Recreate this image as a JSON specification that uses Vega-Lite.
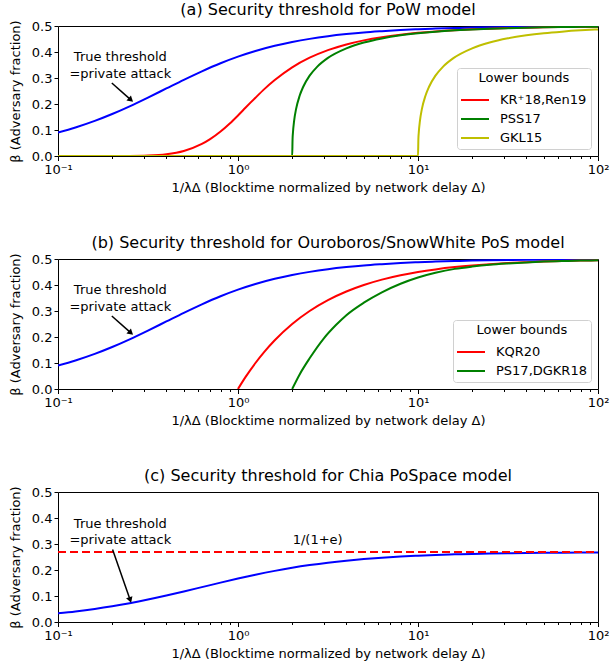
{
  "$schema": "https://vega.github.io/schema/vega-lite/v6.json",
  "padding": {"left": 8, "right": 0, "top": 1, "bottom": 2},
  "spacing": 39,
  "config": {
    "font": "DejaVu Sans",
    "view": {"stroke": "black", "strokeWidth": 1},
    "axis": {"grid": false, "domain": false, "labelFontSize": 13, "titleFontSize": 13, "titleFontWeight": "normal", "labelColor": "black", "titleColor": "black", "tickColor": "black", "tickSize": 4, "labelPadding": 3, "titlePadding": 5},
    "axisY": {"labelPadding": 2, "titlePadding": 9},
    "title": {"fontSize": 16, "fontWeight": "normal", "color": "black", "offset": 2},
    "legend": {"orient": "bottom-right", "offset": 7, "strokeColor": "#d0d0d0", "fillColor": "white", "padding": 4, "cornerRadius": 3, "titleFontSize": 13, "titleFontWeight": "normal", "labelFontSize": 13, "titleColor": "black", "labelColor": "black", "symbolStrokeWidth": 2, "symbolSize": 400, "titleAlign": "center", "titleAnchor": "middle", "rowPadding": 1, "labelOffset": 17, "titlePadding": 4}
  },
  "resolve": {"scale": {"color": "independent"}, "legend": {"color": "independent"}},
  "datasets": {
    "pow": [
      {"s":"true","x":0.1,"beta":0.0901},{"s":"true","x":0.125,"beta":0.1096},{"s":"true","x":0.16,"beta":0.135},{"s":"true","x":0.2,"beta":0.1615},{"s":"true","x":0.25,"beta":0.191},{"s":"true","x":0.316,"beta":0.2246},{"s":"true","x":0.4,"beta":0.2597},{"s":"true","x":0.5,"beta":0.2929},{"s":"true","x":0.63,"beta":0.3256},{"s":"true","x":0.8,"beta":0.3566},{"s":"true","x":1,"beta":0.382},{"s":"true","x":1.25,"beta":0.4037},{"s":"true","x":1.6,"beta":0.4237},{"s":"true","x":2,"beta":0.4384},{"s":"true","x":2.5,"beta":0.4505},{"s":"true","x":3.16,"beta":0.4607},{"s":"true","x":4,"beta":0.4688},{"s":"true","x":5,"beta":0.4751},{"s":"true","x":6.3,"beta":0.48},{"s":"true","x":8,"beta":0.4844},{"s":"true","x":10,"beta":0.4875},{"s":"true","x":12.5,"beta":0.49},{"s":"true","x":16,"beta":0.4922},{"s":"true","x":20,"beta":0.4938},{"s":"true","x":25,"beta":0.495},{"s":"true","x":31.6,"beta":0.4961},{"s":"true","x":40,"beta":0.4969},{"s":"true","x":50,"beta":0.4975},{"s":"true","x":63,"beta":0.498},{"s":"true","x":80,"beta":0.4984},{"s":"true","x":100,"beta":0.4988},
      {"s":"KR⁺18,Ren19","x":0.1,"beta":0},{"s":"KR⁺18,Ren19","x":0.125,"beta":0},{"s":"KR⁺18,Ren19","x":0.16,"beta":0},{"s":"KR⁺18,Ren19","x":0.2,"beta":0.00005},{"s":"KR⁺18,Ren19","x":0.25,"beta":0.0003},{"s":"KR⁺18,Ren19","x":0.316,"beta":0.0018},{"s":"KR⁺18,Ren19","x":0.4,"beta":0.0069},{"s":"KR⁺18,Ren19","x":0.5,"beta":0.0194},{"s":"KR⁺18,Ren19","x":0.63,"beta":0.0462},{"s":"KR⁺18,Ren19","x":0.7,"beta":0.0647},{"s":"KR⁺18,Ren19","x":0.8,"beta":0.094},{"s":"KR⁺18,Ren19","x":0.9,"beta":0.125},{"s":"KR⁺18,Ren19","x":1,"beta":0.156},{"s":"KR⁺18,Ren19","x":1.1,"beta":0.1853},{"s":"KR⁺18,Ren19","x":1.25,"beta":0.224},{"s":"KR⁺18,Ren19","x":1.4,"beta":0.2572},{"s":"KR⁺18,Ren19","x":1.6,"beta":0.292},{"s":"KR⁺18,Ren19","x":2,"beta":0.341},{"s":"KR⁺18,Ren19","x":2.5,"beta":0.378},{"s":"KR⁺18,Ren19","x":3.16,"beta":0.4073},{"s":"KR⁺18,Ren19","x":4,"beta":0.429},{"s":"KR⁺18,Ren19","x":5,"beta":0.4447},{"s":"KR⁺18,Ren19","x":6.3,"beta":0.457},{"s":"KR⁺18,Ren19","x":8,"beta":0.4666},{"s":"KR⁺18,Ren19","x":10,"beta":0.4736},{"s":"KR⁺18,Ren19","x":12.5,"beta":0.4792},{"s":"KR⁺18,Ren19","x":16,"beta":0.4839},{"s":"KR⁺18,Ren19","x":20,"beta":0.4872},{"s":"KR⁺18,Ren19","x":25,"beta":0.4898},{"s":"KR⁺18,Ren19","x":31.6,"beta":0.492},{"s":"KR⁺18,Ren19","x":40,"beta":0.4936},{"s":"KR⁺18,Ren19","x":50,"beta":0.495},{"s":"KR⁺18,Ren19","x":63,"beta":0.496},{"s":"KR⁺18,Ren19","x":80,"beta":0.4969},{"s":"KR⁺18,Ren19","x":100,"beta":0.4975},
      {"s":"PSS17","x":0.1,"beta":0},{"s":"PSS17","x":2,"beta":0},{"s":"PSS17","x":2.01,"beta":0.066},{"s":"PSS17","x":2.02,"beta":0.0905},{"s":"PSS17","x":2.05,"beta":0.1351},{"s":"PSS17","x":2.1,"beta":0.1791},{"s":"PSS17","x":2.2,"beta":0.2317},{"s":"PSS17","x":2.3,"beta":0.2654},{"s":"PSS17","x":2.5,"beta":0.309},{"s":"PSS17","x":2.75,"beta":0.343},{"s":"PSS17","x":3.16,"beta":0.3774},{"s":"PSS17","x":4,"beta":0.4142},{"s":"PSS17","x":5,"beta":0.4365},{"s":"PSS17","x":6.3,"beta":0.4523},{"s":"PSS17","x":8,"beta":0.4641},{"s":"PSS17","x":10,"beta":0.4721},{"s":"PSS17","x":12.5,"beta":0.4782},{"s":"PSS17","x":16,"beta":0.4833},{"s":"PSS17","x":20,"beta":0.4868},{"s":"PSS17","x":25,"beta":0.4896},{"s":"PSS17","x":31.6,"beta":0.4918},{"s":"PSS17","x":40,"beta":0.4936},{"s":"PSS17","x":50,"beta":0.4949},{"s":"PSS17","x":63,"beta":0.496},{"s":"PSS17","x":80,"beta":0.4968},{"s":"PSS17","x":100,"beta":0.4975},
      {"s":"GKL15","x":0.1,"beta":0},{"s":"GKL15","x":10,"beta":0},{"s":"GKL15","x":10.05,"beta":0.066},{"s":"GKL15","x":10.1,"beta":0.0905},{"s":"GKL15","x":10.25,"beta":0.1351},{"s":"GKL15","x":10.5,"beta":0.1791},{"s":"GKL15","x":11,"beta":0.2316},{"s":"GKL15","x":11.5,"beta":0.2654},{"s":"GKL15","x":12.5,"beta":0.309},{"s":"GKL15","x":13.75,"beta":0.343},{"s":"GKL15","x":15.8,"beta":0.3773},{"s":"GKL15","x":20,"beta":0.4142},{"s":"GKL15","x":25,"beta":0.4365},{"s":"GKL15","x":31.6,"beta":0.4526},{"s":"GKL15","x":40,"beta":0.4641},{"s":"GKL15","x":50,"beta":0.4721},{"s":"GKL15","x":63,"beta":0.4783},{"s":"GKL15","x":80,"beta":0.4833},{"s":"GKL15","x":100,"beta":0.4868}
    ],
    "pos": [
      {"s":"true","x":0.1,"beta":0.0901},{"s":"true","x":0.125,"beta":0.1096},{"s":"true","x":0.16,"beta":0.135},{"s":"true","x":0.2,"beta":0.1615},{"s":"true","x":0.25,"beta":0.191},{"s":"true","x":0.316,"beta":0.2246},{"s":"true","x":0.4,"beta":0.2597},{"s":"true","x":0.5,"beta":0.2929},{"s":"true","x":0.63,"beta":0.3256},{"s":"true","x":0.8,"beta":0.3566},{"s":"true","x":1,"beta":0.382},{"s":"true","x":1.25,"beta":0.4037},{"s":"true","x":1.6,"beta":0.4237},{"s":"true","x":2,"beta":0.4384},{"s":"true","x":2.5,"beta":0.4505},{"s":"true","x":3.16,"beta":0.4607},{"s":"true","x":4,"beta":0.4688},{"s":"true","x":5,"beta":0.4751},{"s":"true","x":6.3,"beta":0.48},{"s":"true","x":8,"beta":0.4844},{"s":"true","x":10,"beta":0.4875},{"s":"true","x":12.5,"beta":0.49},{"s":"true","x":16,"beta":0.4922},{"s":"true","x":20,"beta":0.4938},{"s":"true","x":25,"beta":0.495},{"s":"true","x":31.6,"beta":0.4961},{"s":"true","x":40,"beta":0.4969},{"s":"true","x":50,"beta":0.4975},{"s":"true","x":63,"beta":0.498},{"s":"true","x":80,"beta":0.4984},{"s":"true","x":100,"beta":0.4988},
      {"s":"KQR20","x":1,"beta":0},{"s":"KQR20","x":1.1,"beta":0.0455},{"s":"KQR20","x":1.25,"beta":0.1},{"s":"KQR20","x":1.4,"beta":0.1429},{"s":"KQR20","x":1.6,"beta":0.1875},{"s":"KQR20","x":2,"beta":0.25},{"s":"KQR20","x":2.5,"beta":0.3},{"s":"KQR20","x":3.16,"beta":0.3418},{"s":"KQR20","x":4,"beta":0.375},{"s":"KQR20","x":5,"beta":0.4},{"s":"KQR20","x":6.3,"beta":0.4206},{"s":"KQR20","x":8,"beta":0.4375},{"s":"KQR20","x":10,"beta":0.45},{"s":"KQR20","x":12.5,"beta":0.46},{"s":"KQR20","x":16,"beta":0.4688},{"s":"KQR20","x":20,"beta":0.475},{"s":"KQR20","x":25,"beta":0.48},{"s":"KQR20","x":31.6,"beta":0.4842},{"s":"KQR20","x":40,"beta":0.4875},{"s":"KQR20","x":50,"beta":0.49},{"s":"KQR20","x":63,"beta":0.4921},{"s":"KQR20","x":80,"beta":0.4938},{"s":"KQR20","x":100,"beta":0.495},
      {"s":"PS17,DGKR18","x":2,"beta":0},{"s":"PS17,DGKR18","x":2.2,"beta":0.056},{"s":"PS17,DGKR18","x":2.5,"beta":0.118},{"s":"PS17,DGKR18","x":3,"beta":0.195},{"s":"PS17,DGKR18","x":3.5,"beta":0.246},{"s":"PS17,DGKR18","x":4,"beta":0.284},{"s":"PS17,DGKR18","x":5,"beta":0.332},{"s":"PS17,DGKR18","x":6.3,"beta":0.372},{"s":"PS17,DGKR18","x":8,"beta":0.405},{"s":"PS17,DGKR18","x":10,"beta":0.429},{"s":"PS17,DGKR18","x":12.5,"beta":0.447},{"s":"PS17,DGKR18","x":16,"beta":0.462},{"s":"PS17,DGKR18","x":20,"beta":0.471},{"s":"PS17,DGKR18","x":25,"beta":0.478},{"s":"PS17,DGKR18","x":31.6,"beta":0.483},{"s":"PS17,DGKR18","x":40,"beta":0.487},{"s":"PS17,DGKR18","x":50,"beta":0.49},{"s":"PS17,DGKR18","x":63,"beta":0.492},{"s":"PS17,DGKR18","x":80,"beta":0.494},{"s":"PS17,DGKR18","x":100,"beta":0.495}
    ],
    "chia": [
      {"s":"true","x":0.1,"beta":0.0333},{"s":"true","x":0.125,"beta":0.0407},{"s":"true","x":0.16,"beta":0.0504},{"s":"true","x":0.2,"beta":0.0607},{"s":"true","x":0.25,"beta":0.0725},{"s":"true","x":0.316,"beta":0.0864},{"s":"true","x":0.4,"beta":0.1018},{"s":"true","x":0.5,"beta":0.1174},{"s":"true","x":0.63,"beta":0.1341},{"s":"true","x":0.8,"beta":0.1515},{"s":"true","x":1,"beta":0.1672},{"s":"true","x":1.25,"beta":0.1819},{"s":"true","x":1.6,"beta":0.1967},{"s":"true","x":2,"beta":0.2086},{"s":"true","x":2.5,"beta":0.2189},{"s":"true","x":3.16,"beta":0.2282},{"s":"true","x":4,"beta":0.236},{"s":"true","x":5,"beta":0.2421},{"s":"true","x":6.3,"beta":0.2473},{"s":"true","x":8,"beta":0.2517},{"s":"true","x":10,"beta":0.255},{"s":"true","x":12.5,"beta":0.2578},{"s":"true","x":16,"beta":0.2601},{"s":"true","x":20,"beta":0.2619},{"s":"true","x":25,"beta":0.2633},{"s":"true","x":31.6,"beta":0.2645},{"s":"true","x":40,"beta":0.2654},{"s":"true","x":50,"beta":0.2661},{"s":"true","x":63,"beta":0.2667},{"s":"true","x":80,"beta":0.2672},{"s":"true","x":100,"beta":0.2675},
      {"s":"1/(1+e)","x":0.1,"beta":0.2689},{"s":"1/(1+e)","x":100,"beta":0.2689}
    ],
    "notes": [
      {"p":"a","x":0.222,"beta":0.379,"t":"True threshold"},{"p":"a","x":0.222,"beta":0.317,"t":"=private attack"},
      {"p":"b","x":0.222,"beta":0.379,"t":"True threshold"},{"p":"b","x":0.222,"beta":0.317,"t":"=private attack"},
      {"p":"c","x":0.222,"beta":0.377,"t":"True threshold"},{"p":"c","x":0.222,"beta":0.315,"t":"=private attack"},
      {"p":"c","x":2.77,"beta":0.314,"t":"1/(1+e)"}
    ],
    "arrows": [
      {"p":"a","x":0.199,"beta":0.281,"x2":0.254,"beta2":0.216},
      {"p":"b","x":0.199,"beta":0.281,"x2":0.254,"beta2":0.216},
      {"p":"c","x":0.201,"beta":0.279,"x2":0.2518,"beta2":0.0846}
    ],
    "heads": [
      {"p":"a","x":0.254,"beta":0.216},
      {"p":"b","x":0.254,"beta":0.216},
      {"p":"c","x":0.2518,"beta":0.0846}
    ]
  },
  "vconcat": [
    {
      "title": "(a) Security threshold for PoW model",
      "width": 540, "height": 130,
      "encoding": {
        "x": {"field": "x", "type": "quantitative", "scale": {"type": "log", "domain": [0.1, 100], "nice": false}, "title": "1/λΔ (Blocktime normalized by network delay Δ)",
          "axis": {"values": [0.1,0.2,0.3,0.4,0.5,0.6,0.7,0.8,0.9,1,2,3,4,5,6,7,8,9,10,20,30,40,50,60,70,80,90,100],
            "labelExpr": "datum.value == 0.1 ? '10⁻¹' : datum.value == 1 ? '10⁰' : datum.value == 10 ? '10¹' : datum.value == 100 ? '10²' : ''",
            "tickSize": {"condition": {"test": "datum.value == 0.1 || datum.value == 1 || datum.value == 10 || datum.value == 100", "value": 4.5}, "value": 2.5}, "labelFlush": false}},
        "y": {"field": "beta", "type": "quantitative", "scale": {"domain": [0, 0.5], "nice": false}, "title": "β (Adversary fraction)", "axis": {"values": [0,0.1,0.2,0.3,0.4,0.5], "format": ".1f"}}
      },
      "layer": [
        {"data": {"name": "pow"}, "transform": [{"filter": "datum.s == 'true'"}], "mark": {"type": "line", "color": "#0000ff", "strokeWidth": 2, "clip": true, "interpolate": "monotone"}},
        {"data": {"name": "pow"}, "transform": [{"filter": "datum.s != 'true'"}], "mark": {"type": "line", "strokeWidth": 2, "clip": true, "interpolate": "monotone"},
          "encoding": {"color": {"field": "s", "type": "nominal", "title": "Lower bounds", "scale": {"domain": ["KR⁺18,Ren19", "PSS17", "GKL15"], "range": ["#ff0000", "#008000", "#bfbf00"]}, "legend": {"symbolType": "M -1.1 0 L 1.7 0"}}}},
        {"data": {"name": "notes"}, "transform": [{"filter": "datum.p == 'a'"}], "mark": {"type": "text", "fontSize": 13, "align": "center", "baseline": "middle", "color": "black"}, "encoding": {"text": {"field": "t"}}},
        {"data": {"name": "arrows"}, "transform": [{"filter": "datum.p == 'a'"}], "mark": {"type": "rule", "strokeWidth": 1.5, "color": "black"}, "encoding": {"x2": {"field": "x2"}, "y2": {"field": "beta2"}}},
        {"data": {"name": "heads"}, "transform": [{"filter": "datum.p == 'a'"}], "mark": {"type": "point", "shape": "triangle-up", "filled": true, "color": "black", "opacity": 1, "size": 45, "angle": 132}}
      ]
    },
    {
      "title": "(b) Security threshold for Ouroboros/SnowWhite PoS model",
      "width": 540, "height": 130,
      "encoding": {
        "x": {"field": "x", "type": "quantitative", "scale": {"type": "log", "domain": [0.1, 100], "nice": false}, "title": "1/λΔ (Blocktime normalized by network delay Δ)",
          "axis": {"values": [0.1,0.2,0.3,0.4,0.5,0.6,0.7,0.8,0.9,1,2,3,4,5,6,7,8,9,10,20,30,40,50,60,70,80,90,100],
            "labelExpr": "datum.value == 0.1 ? '10⁻¹' : datum.value == 1 ? '10⁰' : datum.value == 10 ? '10¹' : datum.value == 100 ? '10²' : ''",
            "tickSize": {"condition": {"test": "datum.value == 0.1 || datum.value == 1 || datum.value == 10 || datum.value == 100", "value": 4.5}, "value": 2.5}, "labelFlush": false}},
        "y": {"field": "beta", "type": "quantitative", "scale": {"domain": [0, 0.5], "nice": false}, "title": "β (Adversary fraction)", "axis": {"values": [0,0.1,0.2,0.3,0.4,0.5], "format": ".1f"}}
      },
      "layer": [
        {"data": {"name": "pos"}, "transform": [{"filter": "datum.s == 'true'"}], "mark": {"type": "line", "color": "#0000ff", "strokeWidth": 2, "clip": true, "interpolate": "monotone"}},
        {"data": {"name": "pos"}, "transform": [{"filter": "datum.s != 'true'"}], "mark": {"type": "line", "strokeWidth": 2, "clip": true, "interpolate": "monotone"},
          "encoding": {"color": {"field": "s", "type": "nominal", "title": "Lower bounds", "scale": {"domain": ["KQR20", "PS17,DGKR18"], "range": ["#ff0000", "#008000"]}, "legend": {"symbolType": "M -1.1 0 L 1.7 0"}}}},
        {"data": {"name": "notes"}, "transform": [{"filter": "datum.p == 'b'"}], "mark": {"type": "text", "fontSize": 13, "align": "center", "baseline": "middle", "color": "black"}, "encoding": {"text": {"field": "t"}}},
        {"data": {"name": "arrows"}, "transform": [{"filter": "datum.p == 'b'"}], "mark": {"type": "rule", "strokeWidth": 1.5, "color": "black"}, "encoding": {"x2": {"field": "x2"}, "y2": {"field": "beta2"}}},
        {"data": {"name": "heads"}, "transform": [{"filter": "datum.p == 'b'"}], "mark": {"type": "point", "shape": "triangle-up", "filled": true, "color": "black", "opacity": 1, "size": 45, "angle": 132}}
      ]
    },
    {
      "title": "(c) Security threshold for Chia PoSpace model",
      "width": 540, "height": 130,
      "encoding": {
        "x": {"field": "x", "type": "quantitative", "scale": {"type": "log", "domain": [0.1, 100], "nice": false}, "title": "1/λΔ (Blocktime normalized by network delay Δ)",
          "axis": {"values": [0.1,0.2,0.3,0.4,0.5,0.6,0.7,0.8,0.9,1,2,3,4,5,6,7,8,9,10,20,30,40,50,60,70,80,90,100],
            "labelExpr": "datum.value == 0.1 ? '10⁻¹' : datum.value == 1 ? '10⁰' : datum.value == 10 ? '10¹' : datum.value == 100 ? '10²' : ''",
            "tickSize": {"condition": {"test": "datum.value == 0.1 || datum.value == 1 || datum.value == 10 || datum.value == 100", "value": 4.5}, "value": 2.5}, "labelFlush": false}},
        "y": {"field": "beta", "type": "quantitative", "scale": {"domain": [0, 0.5], "nice": false}, "title": "β (Adversary fraction)", "axis": {"values": [0,0.1,0.2,0.3,0.4,0.5], "format": ".1f"}}
      },
      "layer": [
        {"data": {"name": "chia"}, "transform": [{"filter": "datum.s == 'true'"}], "mark": {"type": "line", "color": "#0000ff", "strokeWidth": 2, "clip": true, "interpolate": "monotone"}},
        {"data": {"name": "chia"}, "transform": [{"filter": "datum.s != 'true'"}], "mark": {"type": "line", "color": "#ff0000", "strokeWidth": 2, "strokeDash": [8, 4], "clip": true}},
        {"data": {"name": "notes"}, "transform": [{"filter": "datum.p == 'c'"}], "mark": {"type": "text", "fontSize": 13, "align": "center", "baseline": "middle", "color": "black"}, "encoding": {"text": {"field": "t"}}},
        {"data": {"name": "arrows"}, "transform": [{"filter": "datum.p == 'c'"}], "mark": {"type": "rule", "strokeWidth": 1.5, "color": "black"}, "encoding": {"x2": {"field": "x2"}, "y2": {"field": "beta2"}}},
        {"data": {"name": "heads"}, "transform": [{"filter": "datum.p == 'c'"}], "mark": {"type": "point", "shape": "triangle-up", "filled": true, "color": "black", "opacity": 1, "size": 45, "angle": 161}}
      ]
    }
  ]
}
